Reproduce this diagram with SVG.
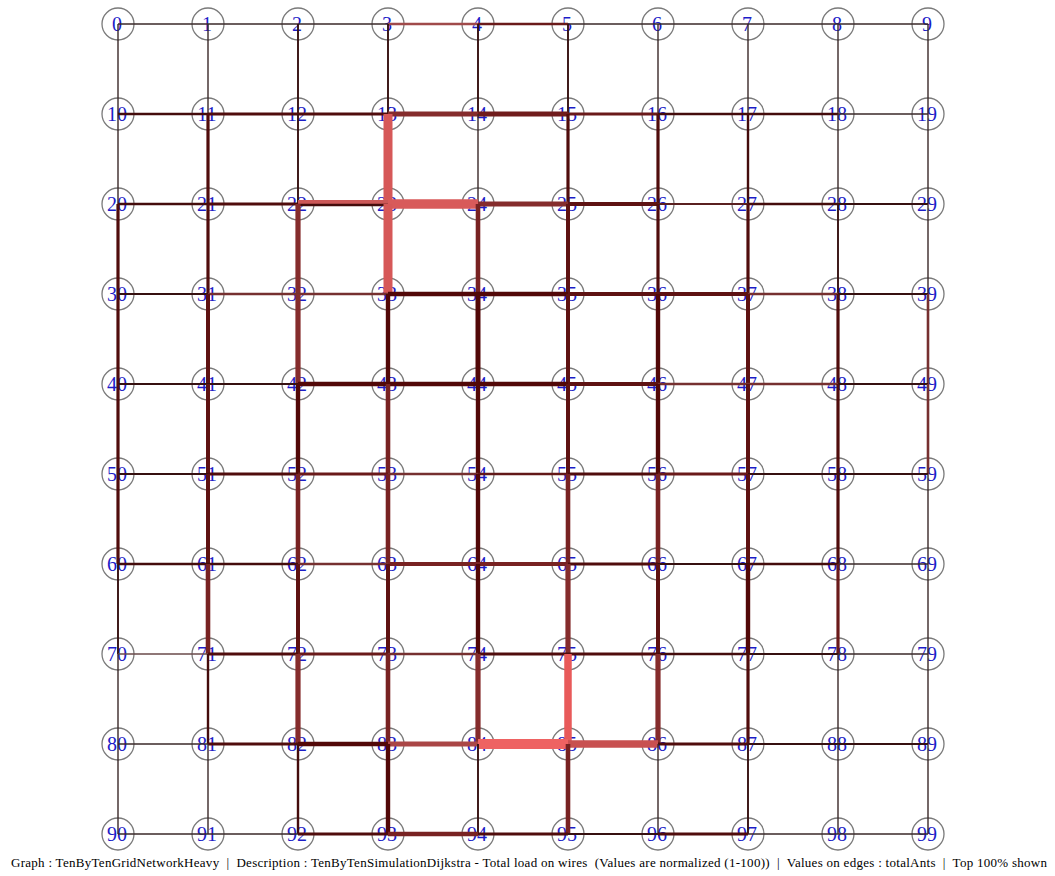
<svg xmlns="http://www.w3.org/2000/svg" width="1055" height="876" viewBox="0 0 1055 876">
<style>
.bg{fill:#ffffff}
.node circle{fill:none;stroke:#7a7a7a;stroke-width:1.3}
.node text{font-family:"Liberation Serif","Times New Roman",serif;font-size:20px;fill:#1c1cc8;text-anchor:middle}
#edges line{stroke-linecap:butt;fill:none}
.t1{stroke:#3a2828;stroke-width:1.4}
.t2{stroke:#361010;stroke-width:1.9}
.d2{stroke:#440c0c;stroke-width:2.4}
.d3{stroke:#500c0c;stroke-width:3.2}
.r2{stroke:#763030;stroke-width:2.6}
.r3{stroke:#6a1a1a;stroke-width:3.2}
.rl{stroke:#a04a4a;stroke-width:2.6}
.m4{stroke:#5e1212;stroke-width:4}
.m5{stroke:#520808;stroke-width:4.4}
.r4{stroke:#782222;stroke-width:4.6}
.r5{stroke:#852c2c;stroke-width:5.2}
.p5{stroke:#aa4646;stroke-width:5.2}
.p6{stroke:#cc5858;stroke-width:6}
.p7{stroke:#e85a5a;stroke-width:7.5}
.p7b{stroke:#c85050;stroke-width:7.5}
.p8{stroke:#d65858;stroke-width:9}
.p9{stroke:#d85a5a;stroke-width:9.5}
.p9b{stroke:#ee6262;stroke-width:10}
.caption{font-family:"Liberation Serif","Times New Roman",serif;font-size:13px;fill:#000000;white-space:pre}
</style>
<rect class="bg" x="0" y="0" width="1055" height="876"/>
<g id="nodes">
<g id="n0" class="node"><circle cx="118" cy="24" r="16"/><text x="117" y="31">0</text></g>
<g id="n1" class="node"><circle cx="208" cy="24" r="16"/><text x="207" y="31">1</text></g>
<g id="n2" class="node"><circle cx="298" cy="24" r="16"/><text x="297" y="31">2</text></g>
<g id="n3" class="node"><circle cx="388" cy="24" r="16"/><text x="387" y="31">3</text></g>
<g id="n4" class="node"><circle cx="478" cy="24" r="16"/><text x="477" y="31">4</text></g>
<g id="n5" class="node"><circle cx="568" cy="24" r="16"/><text x="567" y="31">5</text></g>
<g id="n6" class="node"><circle cx="658" cy="24" r="16"/><text x="657" y="31">6</text></g>
<g id="n7" class="node"><circle cx="748" cy="24" r="16"/><text x="747" y="31">7</text></g>
<g id="n8" class="node"><circle cx="838" cy="24" r="16"/><text x="837" y="31">8</text></g>
<g id="n9" class="node"><circle cx="928" cy="24" r="16"/><text x="927" y="31">9</text></g>
<g id="n10" class="node"><circle cx="118" cy="114" r="16"/><text x="117" y="121">10</text></g>
<g id="n11" class="node"><circle cx="208" cy="114" r="16"/><text x="207" y="121">11</text></g>
<g id="n12" class="node"><circle cx="298" cy="114" r="16"/><text x="297" y="121">12</text></g>
<g id="n13" class="node"><circle cx="388" cy="114" r="16"/><text x="387" y="121">13</text></g>
<g id="n14" class="node"><circle cx="478" cy="114" r="16"/><text x="477" y="121">14</text></g>
<g id="n15" class="node"><circle cx="568" cy="114" r="16"/><text x="567" y="121">15</text></g>
<g id="n16" class="node"><circle cx="658" cy="114" r="16"/><text x="657" y="121">16</text></g>
<g id="n17" class="node"><circle cx="748" cy="114" r="16"/><text x="747" y="121">17</text></g>
<g id="n18" class="node"><circle cx="838" cy="114" r="16"/><text x="837" y="121">18</text></g>
<g id="n19" class="node"><circle cx="928" cy="114" r="16"/><text x="927" y="121">19</text></g>
<g id="n20" class="node"><circle cx="118" cy="204" r="16"/><text x="117" y="211">20</text></g>
<g id="n21" class="node"><circle cx="208" cy="204" r="16"/><text x="207" y="211">21</text></g>
<g id="n22" class="node"><circle cx="298" cy="204" r="16"/><text x="297" y="211">22</text></g>
<g id="n23" class="node"><circle cx="388" cy="204" r="16"/><text x="387" y="211">23</text></g>
<g id="n24" class="node"><circle cx="478" cy="204" r="16"/><text x="477" y="211">24</text></g>
<g id="n25" class="node"><circle cx="568" cy="204" r="16"/><text x="567" y="211">25</text></g>
<g id="n26" class="node"><circle cx="658" cy="204" r="16"/><text x="657" y="211">26</text></g>
<g id="n27" class="node"><circle cx="748" cy="204" r="16"/><text x="747" y="211">27</text></g>
<g id="n28" class="node"><circle cx="838" cy="204" r="16"/><text x="837" y="211">28</text></g>
<g id="n29" class="node"><circle cx="928" cy="204" r="16"/><text x="927" y="211">29</text></g>
<g id="n30" class="node"><circle cx="118" cy="294" r="16"/><text x="117" y="301">30</text></g>
<g id="n31" class="node"><circle cx="208" cy="294" r="16"/><text x="207" y="301">31</text></g>
<g id="n32" class="node"><circle cx="298" cy="294" r="16"/><text x="297" y="301">32</text></g>
<g id="n33" class="node"><circle cx="388" cy="294" r="16"/><text x="387" y="301">33</text></g>
<g id="n34" class="node"><circle cx="478" cy="294" r="16"/><text x="477" y="301">34</text></g>
<g id="n35" class="node"><circle cx="568" cy="294" r="16"/><text x="567" y="301">35</text></g>
<g id="n36" class="node"><circle cx="658" cy="294" r="16"/><text x="657" y="301">36</text></g>
<g id="n37" class="node"><circle cx="748" cy="294" r="16"/><text x="747" y="301">37</text></g>
<g id="n38" class="node"><circle cx="838" cy="294" r="16"/><text x="837" y="301">38</text></g>
<g id="n39" class="node"><circle cx="928" cy="294" r="16"/><text x="927" y="301">39</text></g>
<g id="n40" class="node"><circle cx="118" cy="384" r="16"/><text x="117" y="391">40</text></g>
<g id="n41" class="node"><circle cx="208" cy="384" r="16"/><text x="207" y="391">41</text></g>
<g id="n42" class="node"><circle cx="298" cy="384" r="16"/><text x="297" y="391">42</text></g>
<g id="n43" class="node"><circle cx="388" cy="384" r="16"/><text x="387" y="391">43</text></g>
<g id="n44" class="node"><circle cx="478" cy="384" r="16"/><text x="477" y="391">44</text></g>
<g id="n45" class="node"><circle cx="568" cy="384" r="16"/><text x="567" y="391">45</text></g>
<g id="n46" class="node"><circle cx="658" cy="384" r="16"/><text x="657" y="391">46</text></g>
<g id="n47" class="node"><circle cx="748" cy="384" r="16"/><text x="747" y="391">47</text></g>
<g id="n48" class="node"><circle cx="838" cy="384" r="16"/><text x="837" y="391">48</text></g>
<g id="n49" class="node"><circle cx="928" cy="384" r="16"/><text x="927" y="391">49</text></g>
<g id="n50" class="node"><circle cx="118" cy="474" r="16"/><text x="117" y="481">50</text></g>
<g id="n51" class="node"><circle cx="208" cy="474" r="16"/><text x="207" y="481">51</text></g>
<g id="n52" class="node"><circle cx="298" cy="474" r="16"/><text x="297" y="481">52</text></g>
<g id="n53" class="node"><circle cx="388" cy="474" r="16"/><text x="387" y="481">53</text></g>
<g id="n54" class="node"><circle cx="478" cy="474" r="16"/><text x="477" y="481">54</text></g>
<g id="n55" class="node"><circle cx="568" cy="474" r="16"/><text x="567" y="481">55</text></g>
<g id="n56" class="node"><circle cx="658" cy="474" r="16"/><text x="657" y="481">56</text></g>
<g id="n57" class="node"><circle cx="748" cy="474" r="16"/><text x="747" y="481">57</text></g>
<g id="n58" class="node"><circle cx="838" cy="474" r="16"/><text x="837" y="481">58</text></g>
<g id="n59" class="node"><circle cx="928" cy="474" r="16"/><text x="927" y="481">59</text></g>
<g id="n60" class="node"><circle cx="118" cy="564" r="16"/><text x="117" y="571">60</text></g>
<g id="n61" class="node"><circle cx="208" cy="564" r="16"/><text x="207" y="571">61</text></g>
<g id="n62" class="node"><circle cx="298" cy="564" r="16"/><text x="297" y="571">62</text></g>
<g id="n63" class="node"><circle cx="388" cy="564" r="16"/><text x="387" y="571">63</text></g>
<g id="n64" class="node"><circle cx="478" cy="564" r="16"/><text x="477" y="571">64</text></g>
<g id="n65" class="node"><circle cx="568" cy="564" r="16"/><text x="567" y="571">65</text></g>
<g id="n66" class="node"><circle cx="658" cy="564" r="16"/><text x="657" y="571">66</text></g>
<g id="n67" class="node"><circle cx="748" cy="564" r="16"/><text x="747" y="571">67</text></g>
<g id="n68" class="node"><circle cx="838" cy="564" r="16"/><text x="837" y="571">68</text></g>
<g id="n69" class="node"><circle cx="928" cy="564" r="16"/><text x="927" y="571">69</text></g>
<g id="n70" class="node"><circle cx="118" cy="654" r="16"/><text x="117" y="661">70</text></g>
<g id="n71" class="node"><circle cx="208" cy="654" r="16"/><text x="207" y="661">71</text></g>
<g id="n72" class="node"><circle cx="298" cy="654" r="16"/><text x="297" y="661">72</text></g>
<g id="n73" class="node"><circle cx="388" cy="654" r="16"/><text x="387" y="661">73</text></g>
<g id="n74" class="node"><circle cx="478" cy="654" r="16"/><text x="477" y="661">74</text></g>
<g id="n75" class="node"><circle cx="568" cy="654" r="16"/><text x="567" y="661">75</text></g>
<g id="n76" class="node"><circle cx="658" cy="654" r="16"/><text x="657" y="661">76</text></g>
<g id="n77" class="node"><circle cx="748" cy="654" r="16"/><text x="747" y="661">77</text></g>
<g id="n78" class="node"><circle cx="838" cy="654" r="16"/><text x="837" y="661">78</text></g>
<g id="n79" class="node"><circle cx="928" cy="654" r="16"/><text x="927" y="661">79</text></g>
<g id="n80" class="node"><circle cx="118" cy="744" r="16"/><text x="117" y="751">80</text></g>
<g id="n81" class="node"><circle cx="208" cy="744" r="16"/><text x="207" y="751">81</text></g>
<g id="n82" class="node"><circle cx="298" cy="744" r="16"/><text x="297" y="751">82</text></g>
<g id="n83" class="node"><circle cx="388" cy="744" r="16"/><text x="387" y="751">83</text></g>
<g id="n84" class="node"><circle cx="478" cy="744" r="16"/><text x="477" y="751">84</text></g>
<g id="n85" class="node"><circle cx="568" cy="744" r="16"/><text x="567" y="751">85</text></g>
<g id="n86" class="node"><circle cx="658" cy="744" r="16"/><text x="657" y="751">86</text></g>
<g id="n87" class="node"><circle cx="748" cy="744" r="16"/><text x="747" y="751">87</text></g>
<g id="n88" class="node"><circle cx="838" cy="744" r="16"/><text x="837" y="751">88</text></g>
<g id="n89" class="node"><circle cx="928" cy="744" r="16"/><text x="927" y="751">89</text></g>
<g id="n90" class="node"><circle cx="118" cy="834" r="16"/><text x="117" y="841">90</text></g>
<g id="n91" class="node"><circle cx="208" cy="834" r="16"/><text x="207" y="841">91</text></g>
<g id="n92" class="node"><circle cx="298" cy="834" r="16"/><text x="297" y="841">92</text></g>
<g id="n93" class="node"><circle cx="388" cy="834" r="16"/><text x="387" y="841">93</text></g>
<g id="n94" class="node"><circle cx="478" cy="834" r="16"/><text x="477" y="841">94</text></g>
<g id="n95" class="node"><circle cx="568" cy="834" r="16"/><text x="567" y="841">95</text></g>
<g id="n96" class="node"><circle cx="658" cy="834" r="16"/><text x="657" y="841">96</text></g>
<g id="n97" class="node"><circle cx="748" cy="834" r="16"/><text x="747" y="841">97</text></g>
<g id="n98" class="node"><circle cx="838" cy="834" r="16"/><text x="837" y="841">98</text></g>
<g id="n99" class="node"><circle cx="928" cy="834" r="16"/><text x="927" y="841">99</text></g>
</g>
<g id="edges">
<line class="t1" x1="118" y1="24" x2="208" y2="24"/>
<line class="t1" x1="208" y1="24" x2="298" y2="24"/>
<line class="t1" x1="298" y1="24" x2="388" y2="24"/>
<line class="rl" x1="388" y1="24" x2="478" y2="24"/>
<line class="d2" x1="478" y1="24" x2="568" y2="24" style="stroke:#6a1a1a"/>
<line class="t1" x1="568" y1="24" x2="658" y2="24"/>
<line class="t1" x1="658" y1="24" x2="748" y2="24"/>
<line class="t1" x1="748" y1="24" x2="838" y2="24"/>
<line class="t1" x1="838" y1="24" x2="928" y2="24"/>
<line class="t1" x1="118" y1="24" x2="118" y2="114"/>
<line class="t1" x1="208" y1="24" x2="208" y2="114"/>
<line class="t2" x1="298" y1="24" x2="298" y2="114"/>
<line class="t2" x1="388" y1="24" x2="388" y2="114"/>
<line class="t2" x1="478" y1="24" x2="478" y2="114"/>
<line class="t2" x1="568" y1="24" x2="568" y2="114"/>
<line class="t1" x1="658" y1="24" x2="658" y2="114"/>
<line class="t1" x1="748" y1="24" x2="748" y2="114"/>
<line class="t1" x1="838" y1="24" x2="838" y2="114"/>
<line class="t1" x1="928" y1="24" x2="928" y2="114"/>
<line class="d2" x1="118" y1="114" x2="208" y2="114"/>
<line class="d3" x1="208" y1="114" x2="298" y2="114"/>
<line class="d3" x1="298" y1="114" x2="388" y2="114"/>
<line class="r5" x1="388" y1="114" x2="478" y2="114"/>
<line class="r5" x1="478" y1="114" x2="568" y2="114" style="stroke:#701c1c"/>
<line class="r3" x1="568" y1="114" x2="658" y2="114"/>
<line class="d2" x1="658" y1="114" x2="748" y2="114"/>
<line class="d2" x1="748" y1="114" x2="838" y2="114"/>
<line class="t1" x1="838" y1="114" x2="928" y2="114"/>
<line class="t1" x1="118" y1="114" x2="118" y2="204"/>
<line class="d3" x1="208" y1="114" x2="208" y2="204"/>
<line class="t2" x1="298" y1="114" x2="298" y2="204"/>
<line class="p8" x1="388" y1="114" x2="388" y2="204"/>
<line class="t1" x1="478" y1="114" x2="478" y2="204"/>
<line class="d3" x1="568" y1="114" x2="568" y2="204"/>
<line class="d3" x1="658" y1="114" x2="658" y2="204"/>
<line class="d2" x1="748" y1="114" x2="748" y2="204"/>
<line class="t1" x1="838" y1="114" x2="838" y2="204"/>
<line class="t1" x1="928" y1="114" x2="928" y2="204"/>
<line class="d2" x1="118" y1="204" x2="208" y2="204"/>
<line class="d3" x1="208" y1="204" x2="298" y2="204"/>
<line class="p6" x1="298" y1="203" x2="388" y2="203"/>
<line class="d2" x1="298" y1="205" x2="388" y2="205"/>
<line class="p9" x1="388" y1="204" x2="478" y2="204"/>
<line class="r5" x1="478" y1="204" x2="568" y2="204"/>
<line class="m4" x1="568" y1="204" x2="658" y2="204"/>
<line class="t2" x1="658" y1="204" x2="748" y2="204" style="stroke:#5a2020"/>
<line class="d2" x1="748" y1="204" x2="838" y2="204"/>
<line class="t2" x1="838" y1="204" x2="928" y2="204"/>
<line class="d3" x1="118" y1="204" x2="118" y2="294"/>
<line class="d3" x1="208" y1="204" x2="208" y2="294"/>
<line class="r5" x1="298" y1="204" x2="298" y2="294"/>
<line class="p8" x1="388" y1="204" x2="388" y2="294"/>
<line class="r4" x1="478" y1="204" x2="478" y2="294"/>
<line class="m4" x1="568" y1="204" x2="568" y2="294"/>
<line class="d3" x1="658" y1="204" x2="658" y2="294"/>
<line class="d3" x1="748" y1="204" x2="748" y2="294"/>
<line class="t2" x1="838" y1="204" x2="838" y2="294"/>
<line class="t1" x1="928" y1="204" x2="928" y2="294"/>
<line class="t2" x1="118" y1="294" x2="208" y2="294"/>
<line class="r2" x1="208" y1="294" x2="298" y2="294"/>
<line class="r2" x1="298" y1="294" x2="388" y2="294"/>
<line class="m5" x1="388" y1="294" x2="478" y2="294"/>
<line class="m5" x1="478" y1="294" x2="568" y2="294"/>
<line class="m4" x1="568" y1="294" x2="658" y2="294"/>
<line class="m4" x1="658" y1="294" x2="748" y2="294"/>
<line class="r2" x1="748" y1="294" x2="838" y2="294"/>
<line class="t2" x1="838" y1="294" x2="928" y2="294"/>
<line class="d3" x1="118" y1="294" x2="118" y2="384"/>
<line class="m4" x1="208" y1="294" x2="208" y2="384"/>
<line class="r5" x1="298" y1="294" x2="298" y2="384"/>
<line class="m5" x1="388" y1="294" x2="388" y2="384"/>
<line class="m5" x1="478" y1="294" x2="478" y2="384" style="stroke-width:5"/>
<line class="m4" x1="568" y1="294" x2="568" y2="384"/>
<line class="m5" x1="658" y1="294" x2="658" y2="384"/>
<line class="m4" x1="748" y1="294" x2="748" y2="384"/>
<line class="d3" x1="838" y1="294" x2="838" y2="384"/>
<line class="r2" x1="928" y1="294" x2="928" y2="384"/>
<line class="t2" x1="118" y1="384" x2="208" y2="384"/>
<line class="t2" x1="208" y1="384" x2="298" y2="384"/>
<line class="m5" x1="298" y1="384" x2="388" y2="384"/>
<line class="m5" x1="388" y1="384" x2="478" y2="384"/>
<line class="m5" x1="478" y1="384" x2="568" y2="384"/>
<line class="m4" x1="568" y1="384" x2="658" y2="384"/>
<line class="r2" x1="658" y1="384" x2="748" y2="384"/>
<line class="r2" x1="748" y1="384" x2="838" y2="384"/>
<line class="t2" x1="838" y1="384" x2="928" y2="384"/>
<line class="d3" x1="118" y1="384" x2="118" y2="474"/>
<line class="m4" x1="208" y1="384" x2="208" y2="474"/>
<line class="m5" x1="298" y1="384" x2="298" y2="474"/>
<line class="r4" x1="388" y1="384" x2="388" y2="474"/>
<line class="m5" x1="478" y1="384" x2="478" y2="474"/>
<line class="m4" x1="568" y1="384" x2="568" y2="474"/>
<line class="m5" x1="658" y1="384" x2="658" y2="474"/>
<line class="m4" x1="748" y1="384" x2="748" y2="474"/>
<line class="d3" x1="838" y1="384" x2="838" y2="474"/>
<line class="r2" x1="928" y1="384" x2="928" y2="474"/>
<line class="t2" x1="118" y1="474" x2="208" y2="474"/>
<line class="d3" x1="208" y1="474" x2="298" y2="474"/>
<line class="r3" x1="298" y1="474" x2="388" y2="474"/>
<line class="r2" x1="388" y1="474" x2="478" y2="474"/>
<line class="d2" x1="478" y1="474" x2="568" y2="474" style="stroke:#621818"/>
<line class="d3" x1="568" y1="474" x2="658" y2="474"/>
<line class="r3" x1="658" y1="474" x2="748" y2="474"/>
<line class="t2" x1="748" y1="474" x2="838" y2="474"/>
<line class="t2" x1="838" y1="474" x2="928" y2="474"/>
<line class="d3" x1="118" y1="474" x2="118" y2="564"/>
<line class="m4" x1="208" y1="474" x2="208" y2="564"/>
<line class="r4" x1="298" y1="474" x2="298" y2="564"/>
<line class="r4" x1="388" y1="474" x2="388" y2="564"/>
<line class="m5" x1="478" y1="474" x2="478" y2="564"/>
<line class="r4" x1="568" y1="474" x2="568" y2="564"/>
<line class="r4" x1="658" y1="474" x2="658" y2="564"/>
<line class="m4" x1="748" y1="474" x2="748" y2="564"/>
<line class="d3" x1="838" y1="474" x2="838" y2="564"/>
<line class="t1" x1="928" y1="474" x2="928" y2="564"/>
<line class="d2" x1="118" y1="564" x2="208" y2="564"/>
<line class="d2" x1="208" y1="564" x2="298" y2="564"/>
<line class="r2" x1="298" y1="564" x2="388" y2="564"/>
<line class="r4" x1="388" y1="564" x2="478" y2="564" style="stroke-width:3.8"/>
<line class="r4" x1="478" y1="564" x2="568" y2="564" style="stroke-width:3.8"/>
<line class="d3" x1="568" y1="564" x2="658" y2="564"/>
<line class="t2" x1="658" y1="564" x2="748" y2="564"/>
<line class="d2" x1="748" y1="564" x2="838" y2="564"/>
<line class="t1" x1="838" y1="564" x2="928" y2="564"/>
<line class="t2" x1="118" y1="564" x2="118" y2="654"/>
<line class="r4" x1="208" y1="564" x2="208" y2="654"/>
<line class="m4" x1="298" y1="564" x2="298" y2="654"/>
<line class="m4" x1="388" y1="564" x2="388" y2="654"/>
<line class="m5" x1="478" y1="564" x2="478" y2="654"/>
<line class="r5" x1="568" y1="564" x2="568" y2="654"/>
<line class="m4" x1="658" y1="564" x2="658" y2="654"/>
<line class="m5" x1="748" y1="564" x2="748" y2="654"/>
<line class="r3" x1="838" y1="564" x2="838" y2="654"/>
<line class="t1" x1="928" y1="564" x2="928" y2="654"/>
<line class="t1" x1="118" y1="654" x2="208" y2="654" style="stroke:#6a4a4a"/>
<line class="d3" x1="208" y1="654" x2="298" y2="654"/>
<line class="r3" x1="298" y1="654" x2="388" y2="654"/>
<line class="r2" x1="388" y1="654" x2="478" y2="654"/>
<line class="d3" x1="478" y1="654" x2="568" y2="654"/>
<line class="d3" x1="568" y1="654" x2="658" y2="654"/>
<line class="d2" x1="658" y1="654" x2="748" y2="654"/>
<line class="t2" x1="748" y1="654" x2="838" y2="654"/>
<line class="t1" x1="838" y1="654" x2="928" y2="654"/>
<line class="t1" x1="118" y1="654" x2="118" y2="744"/>
<line class="d2" x1="208" y1="654" x2="208" y2="744"/>
<line class="r5" x1="298" y1="654" x2="298" y2="744"/>
<line class="r4" x1="388" y1="654" x2="388" y2="744"/>
<line class="r5" x1="478" y1="654" x2="478" y2="744"/>
<line class="p7" x1="568" y1="654" x2="568" y2="744"/>
<line class="r5" x1="658" y1="654" x2="658" y2="744"/>
<line class="d3" x1="748" y1="654" x2="748" y2="744"/>
<line class="t1" x1="838" y1="654" x2="838" y2="744"/>
<line class="t1" x1="928" y1="654" x2="928" y2="744"/>
<line class="t1" x1="118" y1="744" x2="208" y2="744"/>
<line class="d3" x1="208" y1="744" x2="298" y2="744"/>
<line class="m5" x1="298" y1="744" x2="388" y2="744"/>
<line class="p5" x1="388" y1="744" x2="478" y2="744"/>
<line class="p9b" x1="478" y1="744" x2="568" y2="744"/>
<line class="p7b" x1="568" y1="744" x2="658" y2="744"/>
<line class="d3" x1="658" y1="744" x2="748" y2="744"/>
<line class="t2" x1="748" y1="744" x2="838" y2="744"/>
<line class="t2" x1="838" y1="744" x2="928" y2="744"/>
<line class="t1" x1="118" y1="744" x2="118" y2="834"/>
<line class="t1" x1="208" y1="744" x2="208" y2="834"/>
<line class="d2" x1="298" y1="744" x2="298" y2="834"/>
<line class="m5" x1="388" y1="744" x2="388" y2="834"/>
<line class="t2" x1="478" y1="744" x2="478" y2="834"/>
<line class="r4" x1="568" y1="744" x2="568" y2="834"/>
<line class="t1" x1="658" y1="744" x2="658" y2="834"/>
<line class="t2" x1="748" y1="744" x2="748" y2="834"/>
<line class="t1" x1="838" y1="744" x2="838" y2="834"/>
<line class="t1" x1="928" y1="744" x2="928" y2="834"/>
<line class="t1" x1="118" y1="834" x2="208" y2="834"/>
<line class="t1" x1="208" y1="834" x2="298" y2="834"/>
<line class="d3" x1="298" y1="834" x2="388" y2="834"/>
<line class="r4" x1="388" y1="834" x2="478" y2="834"/>
<line class="d3" x1="478" y1="834" x2="568" y2="834"/>
<line class="t2" x1="568" y1="834" x2="658" y2="834"/>
<line class="d3" x1="658" y1="834" x2="748" y2="834"/>
<line class="t1" x1="748" y1="834" x2="838" y2="834"/>
<line class="t1" x1="838" y1="834" x2="928" y2="834"/>
</g>
<text class="caption" x="11" y="867" textLength="1036" lengthAdjust="spacing">Graph : TenByTenGridNetworkHeavy  |  Description : TenByTenSimulationDijkstra - Total load on wires  (Values are normalized (1-100))  |  Values on edges : totalAnts  |  Top 100% shown</text>
</svg>
